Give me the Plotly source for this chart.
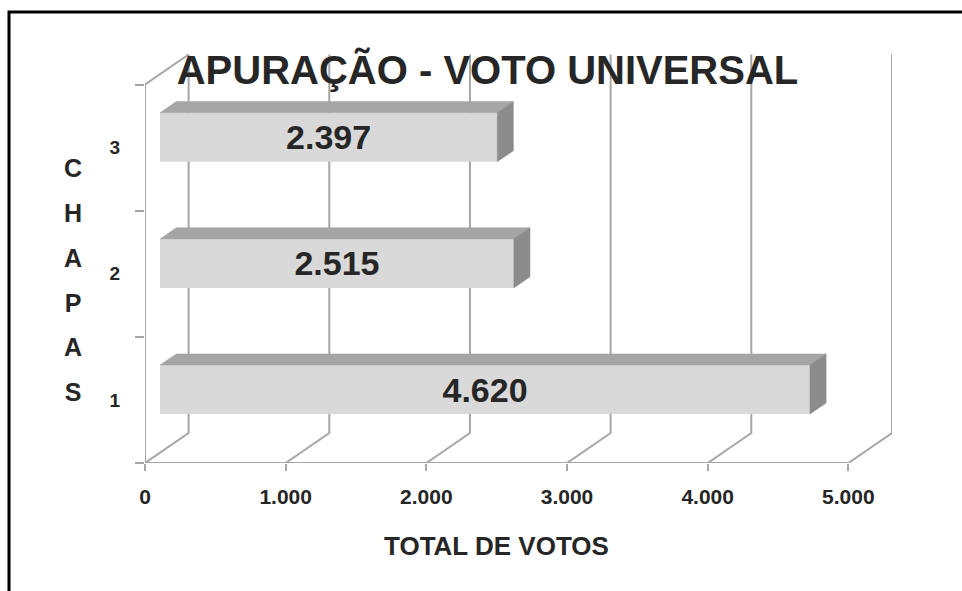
import plotly.graph_objects as go

# ---------------- data ----------------
categories = [1, 2, 3]
votes = [4620, 2515, 2397]
x_ticks = [0, 1000, 2000, 3000, 4000, 5000]
y_band_edges = [0.5, 1.5, 2.5, 3.5]
title_text = "APURAÇÃO - VOTO UNIVERSAL"
x_title = "TOTAL DE VOTOS"
y_title_letters = list("CHAPAS")

# ---------------- pseudo-3D geometry (axis units) ----------------
DX = 310      # depth offset along x (votes)
DY = 0.238    # depth offset along y (category units)
F0 = 0.345    # bar front plane depth fraction
F1 = 0.715    # bar back plane depth fraction
BAR_W = 0.389
Y0 = y_band_edges[0]
YTOP = y_band_edges[-1]

GRID = "#a6a6a6"
FRONT = "#d9d9d9"
TOPC = "#a5a5a5"
SIDE = "#8c8c8c"
TEXT = "#262626"
FONT = "Liberation Sans"

fig = go.Figure()

# wall / floor lines
gx, gy = [], []
for t in x_ticks:
    gx += [t, t + DX, t + DX, None]
    gy += [Y0, Y0 + DY, YTOP + DY, None]
gx += [0, 0, DX, None, 0, x_ticks[-1]]
gy += [Y0, YTOP, YTOP + DY, None, Y0, Y0]
fig.add_trace(go.Scatter(x=gx, y=gy, mode="lines", line=dict(color=GRID, width=2),
                         hoverinfo="skip", showlegend=False, cliponaxis=False, zorder=0))

# front faces of bars
labels = [f"{v:,}".replace(",", ".") for v in votes]
fig.add_trace(go.Bar(
    y=[c + F0 * DY for c in categories], x=votes, base=F0 * DX, orientation="h",
    width=BAR_W, marker=dict(color=FRONT, line=dict(width=0)),
    text=labels, texttemplate="%{text}", textposition="inside",
    insidetextanchor="middle", constraintext="none",
    textfont=dict(size=34, color=TEXT, family=FONT, weight="bold"),
    hoverinfo="skip", showlegend=False, zorder=1))

# top and side faces
ddx = (F1 - F0) * DX
ddy = (F1 - F0) * DY
tx, ty, sx, sy = [], [], [], []
for c, v in zip(categories, votes):
    yb = c + F0 * DY - BAR_W / 2
    yt = yb + BAR_W
    xl = F0 * DX
    xr = F0 * DX + v
    tx += [xl, xr, xr + ddx, xl + ddx, xl, None]
    ty += [yt, yt, yt + ddy, yt + ddy, yt, None]
    sx += [xr, xr, xr + ddx, xr + ddx, xr, None]
    sy += [yb, yt, yt + ddy, yb + ddy, yb, None]
fig.add_trace(go.Scatter(x=tx, y=ty, mode="lines", fill="toself", fillcolor=TOPC,
                         line=dict(color=TOPC, width=0.5), hoverinfo="skip",
                         showlegend=False, cliponaxis=False, zorder=2))
fig.add_trace(go.Scatter(x=sx, y=sy, mode="lines", fill="toself", fillcolor=SIDE,
                         line=dict(color=SIDE, width=0.5), hoverinfo="skip",
                         showlegend=False, cliponaxis=False, zorder=2))

PL, PR, PT, PB = 145, 70, 52, 128
W, H = 962, 591
pw, ph = W - PL - PR, H - PT - PB

fig.update_layout(
    width=W, height=H,
    margin=dict(l=PL, r=PR, t=PT, b=PB),
    paper_bgcolor="white", plot_bgcolor="white",
    separators=",.",
    showlegend=False,
    title=dict(text=title_text, x=487.5 / W, xanchor="center", xref="container",
               y=1 - 70 / H, yanchor="middle", yref="container",
               font=dict(size=40, color=TEXT, family=FONT, weight="bold")),
    xaxis=dict(range=[0, x_ticks[-1] + DX], showgrid=False, zeroline=False, showline=False,
               tickvals=x_ticks, tickformat=",d", ticks="outside", ticklen=7,
               tickwidth=2, tickcolor=GRID, ticklabelstandoff=8,
               tickfont=dict(size=21, color=TEXT, family=FONT, weight="bold")),
    yaxis=dict(range=[Y0, YTOP + DY + 0.02], showgrid=False, zeroline=False, showline=False,
               tickvals=categories, ticktext=[str(c) for c in categories], ticks="",
               ticklabelstandoff=24,
               minor=dict(tickvals=y_band_edges, ticks="outside", ticklen=9,
                          tickwidth=2, tickcolor=GRID),
               tickfont=dict(size=19, color=TEXT, family=FONT, weight="bold")),
    annotations=[
        dict(text=x_title, x=(x_ticks[0] + x_ticks[-1]) / 2, xref="x",
             y=(ph - (546 - PT)) / ph, yref="paper", showarrow=False,
             xanchor="center", yanchor="middle",
             font=dict(size=26, color=TEXT, family=FONT, weight="bold")),
        dict(text="<br>".join(f'<span style="font-size:25px">{ch}</span>' for ch in y_title_letters),
             x=(73 - PL) / pw, xref="paper", y=(ph - (280 - PT)) / ph, yref="paper",
             showarrow=False, xanchor="center", yanchor="middle",
             font=dict(size=34.5, color=TEXT, family=FONT, weight="bold")),
    ],
    shapes=[dict(type="rect", xref="paper", yref="paper",
                 x0=(9 - PL) / pw, x1=(W + 20 - PL) / pw,
                 y0=(ph - (H + 20 - PT)) / ph, y1=(ph - (12 - PT)) / ph,
                 line=dict(color="black", width=3), layer="below")],
)

fig.write_html("out.html", config={"displayModeBar": False},
               post_script="document.body.style.margin='0';")
